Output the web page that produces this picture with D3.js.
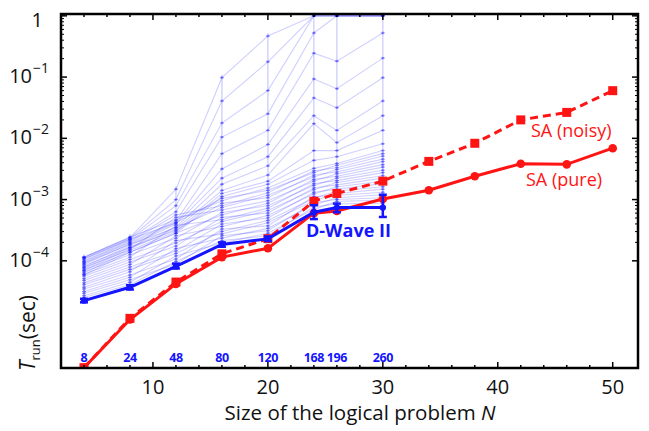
<!DOCTYPE html>
<html>
<head>
<meta charset="utf-8">
<script src="https://cdn.jsdelivr.net/npm/d3@7"></script>
<style>
  body { margin: 0; background: #fff; }
  svg { display: block; font-family: "Open Sans", sans-serif; }
</style>
</head>
<body>
<svg id="chart" width="649" height="431"></svg>
<script>
// ---- data ----
const saN = [4, 8, 12, 16, 20, 24, 26, 30, 34, 38, 42, 46, 50];
const saNoisy = [1.8e-6, 1.15e-5, 4.5e-5, 1.3e-4, 2.3e-4, 9.4e-4, 1.26e-3, 2.0e-3, 4.2e-3, 8.3e-3, 2.0e-2, 2.65e-2, 6.0e-2];
const saPure  = [1.8e-6, 1.1e-5, 4.2e-5, 1.15e-4, 1.6e-4, 6.0e-4, 6.5e-4, 1.02e-3, 1.42e-3, 2.4e-3, 3.85e-3, 3.76e-3, 6.9e-3];

const dwN = [4, 8, 12, 16, 20, 24, 26, 30];
const dwQubits = [8, 24, 48, 80, 120, 168, 196, 260];
const dwMedian = [2.24e-5, 3.7e-5, 8.1e-5, 1.85e-4, 2.28e-4, 6.2e-4, 7.4e-4, 7.4e-4];
const dwLow  = [2.1e-5, 3.4e-5, 7.5e-5, 1.7e-4, 2.1e-4, 4.8e-4, 6.2e-4, 5.2e-4];
const dwHigh = [2.4e-5, 4.0e-5, 9.0e-5, 2.0e-4, 2.5e-4, 8.1e-4, 8.6e-4, 1.2e-3];

// quantile curves of D-Wave II, log10(sec), one array per N (index = curve)
const dwQ04 = [-4.60,-4.57,-4.53,-4.50,-4.46,-4.43,-4.39,-4.36,-4.32,-4.29,-4.25,-4.22,-4.18,-4.15,-4.11,-4.08,-4.04,-4.01,-3.97,-3.94,
               -3.94,-3.95,-3.97,-4.00,-4.03,-4.06,-4.10,-4.13,-4.16,-4.20,-4.23];
const dwQ08 = [-4.39,-4.35,-4.31,-4.27,-4.23,-4.18,-4.14,-4.10,-4.06,-4.02,-3.98,-3.94,-3.90,-3.86,-3.82,-3.78,-3.73,-3.69,-3.65,-3.61,
               -3.62,-3.63,-3.65,-3.67,-3.70,-3.72,-3.75,-3.78,-3.80,-3.83,-3.86];
const dwQ12 = [-4.01,-3.92,-4.05,-3.80,-3.97,-3.67,-3.88,-3.84,-3.59,-3.76,-3.71,-3.42,-3.63,-3.55,-3.29,-3.50,-3.46,-3.25,-3.38,-3.33,
               -2.83,-3.00,-3.10,-3.20,-3.35,-3.38,-3.40,-3.45,-3.48,-3.52,-3.55];
const dwQ16 = [-3.67,-3.71,-3.59,-3.63,-3.48,-3.56,-3.52,-3.40,-3.44,-3.29,-3.36,-3.33,-3.21,-3.25,-3.17,-3.06,-3.13,-3.10,-2.98,-3.02,
               -1.01,-1.39,-1.75,-1.98,-2.25,-2.50,-2.65,-2.75,-2.85,-2.90,-2.95];
const dwQ20 = [-3.59,-3.55,-3.51,-3.47,-3.43,-3.38,-3.34,-3.30,-3.26,-3.22,-3.18,-3.14,-3.10,-3.06,-3.02,-2.97,-2.93,-2.89,-2.85,-2.81,
               -0.33,-0.75,-1.22,-1.60,-1.87,-2.10,-2.30,-2.45,-2.60,-2.70,-2.75];
const dwQ24 = [-3.12,-3.16,-3.05,-3.09,-2.95,-3.02,-2.98,-2.88,-2.91,-2.81,-2.84,-2.74,-2.77,-2.67,-2.70,-2.60,-2.63,-2.53,-2.56,-2.49,
               0, 0, 0, -0.28,-0.61,-1.03,-1.34,-1.63,-1.76,-2.20,-2.36];
const dwQ26 = [-3.07,-3.03,-3.00,-2.97,-2.93,-2.90,-2.86,-2.83,-2.79,-2.76,-2.72,-2.69,-2.65,-2.62,-2.58,-2.55,-2.51,-2.48,-2.44,-2.41,
               0, 0, 0, 0, -0.74,-1.19,-1.50,-1.87,-2.07,-2.20,-2.30];
const dwQ30 = [-3.06,-3.01,-2.97,-2.92,-2.88,-2.83,-2.79,-2.74,-2.70,-2.65,-2.61,-2.56,-2.52,-2.47,-2.43,-2.38,-2.34,-2.29,-2.25,-2.20,
               0, 0, 0, 0, -0.28,-0.69,-1.01,-1.39,-1.63,-1.87,-2.09];

const xTickLabels = [10, 20, 30, 40, 50];
const yDecades = [0, -1, -2, -3, -4];

// ---- layout ----
const svg = d3.select('#chart');
const plotLeft = 61, plotRight = 638, plotTop = 14, plotBottom = 368;
const red = '#ff1414', blue = '#1414ff';

const x = d3.scaleLinear().domain([2, 52.2]).range([plotLeft, plotRight]);
const y = d3.scaleLog().domain([Math.pow(10, -5.75), Math.pow(10, 0.03)]).range([plotBottom, plotTop]);

svg.append('defs').append('clipPath').attr('id', 'plot-clip')
  .append('rect').attr('x', plotLeft).attr('y', plotTop)
  .attr('width', plotRight - plotLeft).attr('height', plotBottom - plotTop);

const plot = svg.append('g').attr('clip-path', 'url(#plot-clip)');

// quantile curves
const columns = [dwQ04, dwQ08, dwQ12, dwQ16, dwQ20, dwQ24, dwQ26, dwQ30];
const curves = d3.range(dwQ04.length).map(i => dwN.map((n, j) => ({ n, v: Math.pow(10, columns[j][i]) })));

const line = d3.line().x(d => x(d.n)).y(d => y(d.v));

// faint vertical spread at each N
dwN.forEach((n, j) => {
  const lo = Math.pow(10, d3.min(columns[j])), hi = Math.pow(10, d3.max(columns[j]));
  plot.append('line')
    .attr('x1', x(n)).attr('x2', x(n))
    .attr('y1', y(lo) + 3).attr('y2', y(hi) - 3)
    .attr('stroke', blue).attr('stroke-opacity', 0.2).attr('stroke-width', 1.4);
});

plot.append('g').selectAll('path')
  .data(curves)
  .join('path')
  .attr('d', line)
  .attr('fill', 'none')
  .attr('stroke', blue)
  .attr('stroke-opacity', 0.2)
  .attr('stroke-width', 1.1);

// small markers on quantile curves
const qMarks = plot.append('g');
curves.forEach(c => {
  c.forEach(d => {
    qMarks.append('line')
      .attr('x1', x(d.n) - 2).attr('x2', x(d.n) + 2)
      .attr('y1', y(d.v)).attr('y2', y(d.v))
      .attr('stroke', blue).attr('stroke-opacity', 0.4).attr('stroke-width', 1);
    qMarks.append('circle')
      .attr('cx', x(d.n)).attr('cy', y(d.v)).attr('r', 1.4)
      .attr('fill', blue).attr('fill-opacity', 0.35);
  });
});

// SA curves
const saNoisyPts = saN.map((n, i) => ({ n, v: saNoisy[i] }));
const saPurePts = saN.map((n, i) => ({ n, v: saPure[i] }));

plot.append('path').datum(saNoisyPts)
  .attr('d', line).attr('fill', 'none')
  .attr('stroke', red).attr('stroke-width', 3).attr('stroke-dasharray', '8,5');
plot.append('g').selectAll('rect')
  .data(saNoisyPts).join('rect')
  .attr('x', d => x(d.n) - 4.5).attr('y', d => y(d.v) - 4.5)
  .attr('width', 9).attr('height', 9).attr('fill', red);

plot.append('path').datum(saPurePts)
  .attr('d', line).attr('fill', 'none')
  .attr('stroke', red).attr('stroke-width', 3);
plot.append('g').selectAll('circle')
  .data(saPurePts).join('circle')
  .attr('cx', d => x(d.n)).attr('cy', d => y(d.v)).attr('r', 4.3).attr('fill', red);

// D-Wave II median with error bars
const dwPts = dwN.map((n, i) => ({ n, v: dwMedian[i], lo: dwLow[i], hi: dwHigh[i] }));
const eb = plot.append('g').attr('stroke', blue).attr('stroke-width', 2.5);
dwPts.forEach(d => {
  eb.append('line').attr('x1', x(d.n)).attr('x2', x(d.n)).attr('y1', y(d.lo)).attr('y2', y(d.hi));
  eb.append('line').attr('x1', x(d.n) - 4).attr('x2', x(d.n) + 4).attr('y1', y(d.lo)).attr('y2', y(d.lo));
  eb.append('line').attr('x1', x(d.n) - 4).attr('x2', x(d.n) + 4).attr('y1', y(d.hi)).attr('y2', y(d.hi));
});
plot.append('path').datum(dwPts)
  .attr('d', line).attr('fill', 'none')
  .attr('stroke', blue).attr('stroke-width', 3);
plot.append('g').selectAll('circle')
  .data(dwPts).join('circle')
  .attr('cx', d => x(d.n)).attr('cy', d => y(d.v)).attr('r', 3.2).attr('fill', blue);

// ---- frame and ticks ----
const axes = svg.append('g').attr('stroke', '#000');
axes.append('rect')
  .attr('x', plotLeft).attr('y', plotTop)
  .attr('width', plotRight - plotLeft).attr('height', plotBottom - plotTop)
  .attr('fill', 'none').attr('stroke-width', 2.5);

d3.range(4, 52, 2).forEach(n => {
  const len = n % 10 === 0 ? 6 : 3;
  axes.append('line').attr('x1', x(n)).attr('x2', x(n)).attr('y1', plotBottom).attr('y2', plotBottom - len).attr('stroke-width', 1.5);
  axes.append('line').attr('x1', x(n)).attr('x2', x(n)).attr('y1', plotTop).attr('y2', plotTop + len).attr('stroke-width', 1.5);
});

yDecades.forEach(e => {
  const v = Math.pow(10, e);
  [plotLeft, plotRight].forEach(ax => {
    const s = ax === plotLeft ? 1 : -1;
    axes.append('line').attr('x1', ax).attr('x2', ax + s * 6).attr('y1', y(v)).attr('y2', y(v)).attr('stroke-width', 1.5);
    if (e < 0) {
      d3.range(2, 10).forEach(m => {
        const yy = y(m * v);
        axes.append('line').attr('x1', ax).attr('x2', ax + s * 3).attr('y1', yy).attr('y2', yy).attr('stroke-width', 1);
      });
    }
  });
});

// tick labels
svg.append('g').selectAll('text')
  .data(xTickLabels).join('text')
  .attr('x', d => x(d)).attr('y', 394)
  .attr('text-anchor', 'middle').attr('font-size', 20).attr('fill', '#111')
  .text(d => d);

const yl = svg.append('g').attr('fill', '#111');
yDecades.forEach(e => {
  const yy = y(Math.pow(10, e));
  if (e === 0) {
    yl.append('text').attr('x', 43).attr('y', 27).attr('text-anchor', 'end').attr('font-size', 20).text('1');
  } else {
    yl.append('text').attr('x', 32).attr('y', yy + 6).attr('text-anchor', 'end').attr('font-size', 20).text('10');
    yl.append('text').attr('x', 33).attr('y', yy - 4).attr('font-size', 14).text('\u2212' + (-e));
  }
});

// axis titles
svg.append('text')
  .attr('x', 360).attr('y', 420).attr('text-anchor', 'middle')
  .attr('font-size', 20.5).attr('fill', '#111')
  .call(t => {
    t.append('tspan').text('Size of the logical problem ');
    t.append('tspan').attr('font-style', 'italic').text('N');
  });

svg.append('text')
  .attr('transform', 'translate(35,333) rotate(-90)')
  .attr('text-anchor', 'middle').attr('font-size', 21).attr('fill', '#111')
  .call(t => {
    t.append('tspan').attr('font-style', 'italic').text('T');
    t.append('tspan').attr('font-size', 13).attr('dy', 5).text('run');
    t.append('tspan').attr('dy', -5).text('(sec)');
  });

// qubit counts along the bottom
svg.append('g').selectAll('text')
  .data(dwN).join('text')
  .attr('x', d => x(d)).attr('y', 361.5)
  .attr('text-anchor', 'middle').attr('font-size', 12.5).attr('font-weight', 'bold')
  .attr('letter-spacing', -0.4)
  .attr('fill', blue)
  .text((d, i) => dwQubits[i]);

// series labels
svg.append('text').attr('x', 531).attr('y', 137).attr('font-size', 18).attr('fill', red).text('SA (noisy)');
svg.append('text').attr('x', 526).attr('y', 186).attr('font-size', 18).attr('fill', red).text('SA (pure)');
svg.append('text').attr('x', 306).attr('y', 237).attr('font-size', 18).attr('font-weight', 'bold').attr('fill', blue).text('D-Wave II');
</script>
</body>
</html>
